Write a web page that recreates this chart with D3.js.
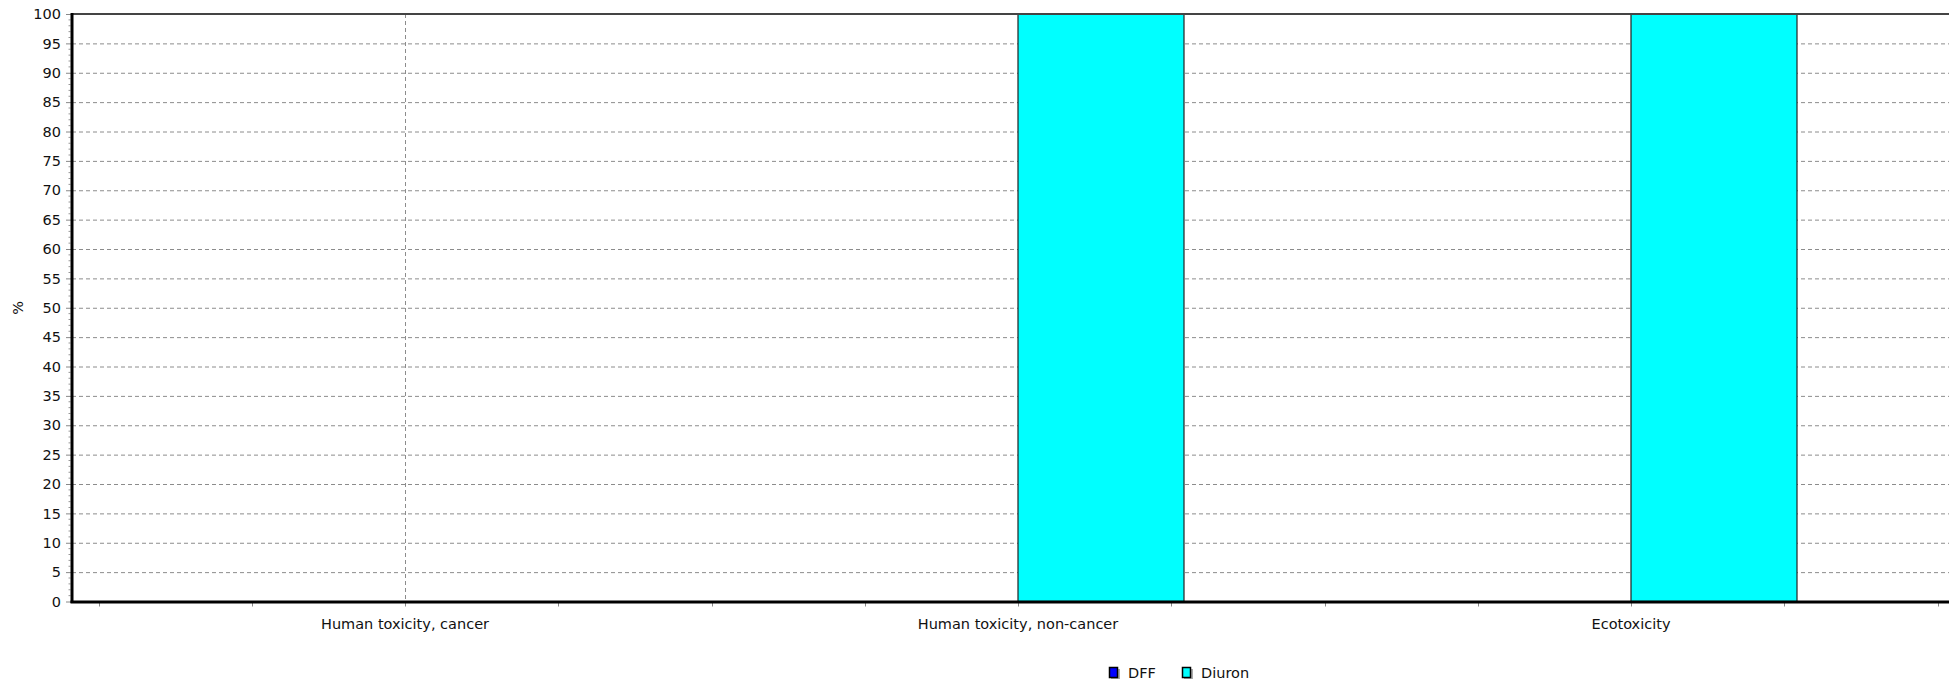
<!DOCTYPE html>
<html><head><meta charset="utf-8">
<script src="https://cdn.jsdelivr.net/npm/d3@7"></script>
<style>
body{margin:0;background:#fff;overflow:hidden}
text{font-family:"DejaVu Sans",Verdana,sans-serif;fill:#111;}
</style>
</head><body>
<svg id="c" width="1949" height="681"></svg>
<script>
// ---- data ----
const categories = ["Human toxicity, cancer", "Human toxicity, non-cancer", "Ecotoxicity"];
const seriesNames = ["DFF", "Diuron"];
const dffValues = [0, 0, 0];
const diuronValues = [0, 100, 100];
const yTickValues = [0,5,10,15,20,25,30,35,40,45,50,55,60,65,70,75,80,85,90,95,100];
const yAxisLabel = "%";

// ---- styles ----
const seriesColors = {"DFF": "#0000ff", "Diuron": "#00ffff"};
const FONT = 14.5;

const svg = d3.select("#c");
const plotL = 72, plotR = 1949, plotT = 14, plotB = 601.5;

const y = d3.scaleLinear().domain([0, 100]).range([plotB, plotT]);
const x = d3.scaleBand().domain(categories).range([98.5, 1937.5]).paddingInner(0).paddingOuter(0);
const bw = x.bandwidth();
const xs = d3.scaleBand().domain(seriesNames).range([bw * 0.2292, bw * 0.7708]).padding(0);

const rows = categories.map((c, i) => ({cat: c, DFF: dffValues[i], Diuron: diuronValues[i]}));

// horizontal gridlines
const gridG = svg.append("g").attr("transform", `translate(${plotL},0)`)
  .call(d3.axisLeft(y).tickValues(yTickValues.filter(v => v > 0 && v < 100)).tickSize(-(plotR - plotL)).tickFormat(""));
gridG.select(".domain").remove();
gridG.selectAll("line").attr("stroke", "#8c8c8c").attr("stroke-width", 1).attr("stroke-dasharray", "4,3");

// vertical gridlines at category centers
svg.append("g").selectAll("line").data(categories).join("line")
  .attr("x1", d => Math.round(x(d) + bw / 2) + 0.5)
  .attr("x2", d => Math.round(x(d) + bw / 2) + 0.5)
  .attr("y1", plotT).attr("y2", plotB)
  .attr("stroke", "#8c8c8c").attr("stroke-width", 1).attr("stroke-dasharray", "4,3");

// bars
const groups = svg.append("g").selectAll("g").data(rows).join("g")
  .attr("transform", d => `translate(${x(d.cat)},0)`);
groups.selectAll("rect").data(d => seriesNames.map(s => ({s, v: d[s]})).filter(e => e.v > 0)).join("rect")
  .attr("x", e => xs(e.s))
  .attr("width", xs.bandwidth())
  .attr("y", e => y(e.v))
  .attr("height", e => y(0) - y(e.v))
  .attr("fill", e => seriesColors[e.s])
  .attr("stroke", "#222").attr("stroke-width", 1.2);

// top border
svg.append("line").attr("x1", plotL).attr("x2", plotR).attr("y1", plotT).attr("y2", plotT)
  .attr("stroke", "#444").attr("stroke-width", 2);

// y axis: major ticks + labels
const yAx = svg.append("g").attr("transform", `translate(${plotL - 1},0)`)
  .call(d3.axisLeft(y).tickValues(yTickValues).tickSize(5).tickPadding(5));
yAx.select(".domain").remove();
yAx.selectAll("line").attr("stroke", "#888");
yAx.selectAll("text").style("font-size", FONT + "px").attr("font-family", null).attr("fill", "#111");

// y minor ticks
const minorY = d3.range(0, 101).filter(v => v % 5 !== 0);
svg.append("g").selectAll("line").data(minorY).join("line")
  .attr("x1", plotL - 3.5).attr("x2", plotL - 1.5)
  .attr("y1", d => y(d)).attr("y2", d => y(d))
  .attr("stroke", "#999").attr("stroke-width", 1);

// x minor ticks (quarters of each band)
const xTickPos = [];
categories.forEach(c => { for (let k = 0; k < 4; k++) xTickPos.push(x(c) + bw * k / 4); });
xTickPos.push(x.range()[1]);
svg.append("g").selectAll("line").data(xTickPos).join("line")
  .attr("x1", d => Math.round(d) + 0.5).attr("x2", d => Math.round(d) + 0.5)
  .attr("y1", plotB + 1).attr("y2", plotB + 5)
  .attr("stroke", "#888").attr("stroke-width", 1);

// x labels
const xAx = svg.append("g").attr("transform", `translate(0,${plotB})`)
  .call(d3.axisBottom(x).tickSize(0).tickPadding(17));
xAx.select(".domain").remove();
xAx.selectAll("text").style("font-size", FONT + "px").attr("font-family", null).attr("fill", "#111");

// axis lines
svg.append("line").attr("x1", plotL).attr("x2", plotL).attr("y1", plotT - 1).attr("y2", plotB + 1.5)
  .attr("stroke", "#000").attr("stroke-width", 3);
svg.append("line").attr("x1", plotL - 1.5).attr("x2", plotR).attr("y1", plotB + 0.5).attr("y2", plotB + 0.5)
  .attr("stroke", "#000").attr("stroke-width", 3);

// y axis title
svg.append("text").attr("transform", `translate(23,${(plotT + plotB) / 2}) rotate(-90)`)
  .attr("text-anchor", "middle").style("font-size", FONT + "px").text(yAxisLabel);

// legend
const legendX = [1109, 1182];
const lg = svg.append("g").selectAll("g").data(seriesNames).join("g")
  .attr("transform", (d, i) => `translate(${legendX[i]},667)`);
lg.append("rect").attr("x", 2).attr("y", 2).attr("width", 9).attr("height", 10).attr("fill", "#aaa");
lg.append("rect").attr("x", 0.5).attr("y", 0.5).attr("width", 8).attr("height", 10)
  .attr("fill", d => seriesColors[d]).attr("stroke", "#000").attr("stroke-width", 1.5);
lg.append("text").attr("x", 19).attr("y", 11).style("font-size", FONT + "px").text(d => d);
</script>
</body></html>
